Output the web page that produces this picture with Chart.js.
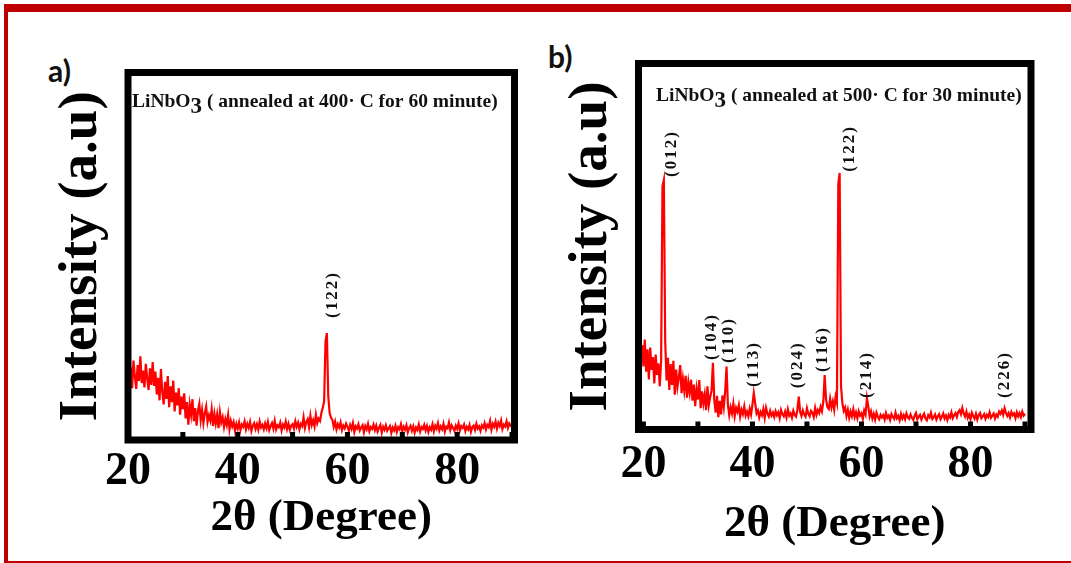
<!DOCTYPE html>
<html><head><meta charset="utf-8">
<script src="https://cdn.jsdelivr.net/npm/chart.js@4.4.1/dist/chart.umd.min.js"></script>
<style>
html,body{margin:0;padding:0;background:#fff;width:1071px;height:563px;overflow:hidden;position:relative;}
#frame{position:absolute;left:4px;top:4px;width:1090px;height:559px;box-sizing:border-box;border-top:8px solid #c00000;border-left:4px solid #c00000;border-bottom:2px solid #c00000;}
.plabel{position:absolute;font-family:Lato,"Liberation Sans",sans-serif;font-weight:700;font-size:30px;line-height:30px;color:#111;}
#wa{position:absolute;left:40px;top:50px;width:500px;height:510px;}
#wb{position:absolute;left:550px;top:40px;width:500px;height:520px;}
</style></head><body>
<div id="frame"></div>
<div class="plabel" style="left:48px;top:55px">a)</div>
<div class="plabel" style="left:548px;top:41px">b)</div>
<div id="wa"><canvas id="ca" width="500" height="510"></canvas></div>
<div id="wb"><canvas id="cb" width="500" height="520"></canvas></div>
<script>
// ---- data ----
const X_TICKS = [20, 40, 60, 80];
const X_MINOR = [20, 30, 40, 50, 60, 70, 80, 90];
const X_TITLE = '2θ (Degree)';
const Y_TITLE = 'Intensity (a.u)';

// panel a: 2θ from 20.00 step 0.25
const A_START = 20, A_STEP = 0.25;
const A_INTENSITY = [
22.5,15.2,19.8,14.1,21.6,17.3,13.9,20.4,16.1,22.8,15.5,18.9,14.3,20.7,16.8,13.6,19.5,15.0,21.2,14.7,
18.6,12.4,16.9,10.8,19.3,13.1,9.7,15.8,11.2,17.4,8.9,14.6,10.3,16.2,7.8,12.9,9.4,14.1,6.9,11.8,
8.4,12.7,5.9,10.3,4.2,9.6,6.8,11.1,5.1,8.7,3.9,7.9,9.8,5.4,8.2,4.6,7.3,9.1,4.9,6.7,
5.3,8.4,3.8,7.1,4.5,6.9,3.2,7.6,4.8,6.2,3.5,5.7,4.1,6.8,2.9,5.2,3.7,4.9,2.6,4.4,
3.1,4.8,2.7,4.2,3.6,5.1,2.9,4.4,3.3,4.9,2.5,3.9,4.6,3.0,4.3,2.8,5.0,3.4,4.1,2.9,
4.5,3.2,4.9,2.7,3.8,4.6,3.1,5.2,2.9,4.0,3.5,4.7,2.6,4.2,3.4,5.0,3.0,4.4,2.8,3.9,
4.3,3.1,5.1,3.6,4.7,2.9,4.4,3.8,6.2,3.3,4.9,5.7,3.5,6.6,4.1,5.4,3.7,6.9,4.6,5.8,
5.2,7.4,8.8,10.5,26.8,29.1,12.0,7.4,6.1,5.5,3.6,5.0,2.9,4.3,3.4,4.8,2.7,3.9,3.2,4.5,
3.6,2.5,4.1,3.0,4.6,2.2,3.7,3.1,4.3,2.6,3.4,4.0,2.1,3.8,2.9,4.4,2.4,3.5,3.0,4.2,
2.7,3.9,2.3,3.3,4.1,2.0,3.6,2.8,4.0,2.5,3.2,3.8,1.9,3.4,2.6,3.9,2.2,3.5,2.9,4.3,
2.4,3.6,2.8,4.0,2.1,3.3,3.9,2.5,3.7,2.0,3.4,2.7,4.2,2.3,3.5,3.0,4.1,2.6,3.8,2.2,
3.5,2.8,4.3,2.4,3.9,3.1,4.6,2.6,3.7,2.9,4.4,2.3,3.6,3.2,4.8,2.7,4.0,3.3,2.5,3.9,
3.0,4.5,2.6,3.8,3.3,4.2,2.4,3.6,2.9,4.1,2.2,3.5,3.9,2.7,4.4,3.1,3.7,2.5,4.0,3.4,
4.6,2.9,4.1,3.5,5.2,2.8,4.4,3.6,5.0,3.1,4.7,3.8,5.3,3.0,4.2,3.7,5.1,3.3,4.5,3.9,
4.3
];

// panel b: 2θ from 19.00 step 0.25
const B_START = 19, B_STEP = 0.25;
const B_INTENSITY = [
24.8,26.3,19.4,23.1,17.2,24.6,15.8,21.9,13.7,22.4,16.3,19.8,12.6,20.5,14.9,18.1,11.8,18.7,66.5,68.2,
24.0,13.4,19.6,10.8,17.9,12.2,18.8,9.5,16.4,11.7,14.2,17.6,9.9,13.8,10.6,14.7,8.7,12.9,10.1,13.6,
7.9,12.3,6.4,11.1,8.2,13.5,5.8,10.4,7.1,9.6,5.3,11.8,6.7,8.9,10.6,18.2,8.1,4.6,9.2,3.4,
7.8,4.1,9.3,6.2,10.5,17.2,6.8,3.9,6.1,4.4,7.0,3.6,5.9,4.8,6.6,3.5,5.4,4.2,6.3,3.8,
4.9,3.6,5.7,4.1,6.8,10.0,7.3,4.4,5.2,3.3,4.8,3.9,5.6,3.2,5.9,4.3,3.5,5.1,3.8,4.6,
3.4,5.0,3.9,4.7,3.1,5.3,4.2,3.6,4.9,3.3,5.5,3.8,4.4,3.2,5.1,4.0,3.5,5.4,9.0,4.8,
3.7,5.2,4.1,3.5,5.8,4.3,3.6,5.1,4.6,3.4,5.9,4.0,5.3,4.5,6.2,5.0,7.6,14.9,8.3,6.1,
5.6,8.4,6.0,7.7,5.4,8.9,7.3,67.0,70.1,11.8,7.2,5.1,6.0,3.7,5.4,3.2,4.9,3.6,5.5,3.4,
4.7,3.1,5.0,3.8,4.4,2.9,5.2,4.1,8.6,6.3,3.6,4.9,3.0,4.3,2.7,4.6,3.5,2.8,4.0,3.3,
3.9,2.7,4.5,3.2,3.8,2.6,4.2,3.4,2.9,4.6,3.1,3.7,2.5,4.3,3.0,3.9,2.8,4.4,3.3,2.9,
4.1,3.2,2.6,3.8,4.5,2.8,3.5,4.0,2.7,3.6,4.3,3.0,2.5,3.9,3.3,4.6,2.9,3.4,4.1,2.7,
3.6,4.2,2.8,3.5,4.4,3.0,3.8,2.6,4.0,3.3,4.7,3.1,3.9,4.5,3.4,4.8,5.3,4.2,5.9,4.4,
3.5,4.9,3.2,4.1,2.8,4.6,3.7,3.0,4.3,2.7,3.9,4.5,3.1,3.6,4.2,2.9,4.0,3.4,4.7,3.2,
3.8,4.4,3.0,4.1,3.5,4.9,4.3,5.2,4.0,5.8,4.6,3.7,4.5,3.3,4.8,3.9,4.4,3.1,4.7,3.6,
4.5,3.4,4.9,3.8,4.3
];

const A_TITLE = ['LiNbO', '3', ' ( annealed at 400· C for 60 minute)'];
const B_TITLE = ['LiNbO', '3', ' ( annealed at 500· C for 30 minute)'];

const A_PEAKS = [{text:'(122)', x:57.37, y:33.2}];
const B_PEAKS = [
  {text:'(012)', x:25.2, y:69.0},
  {text:'(104)', x:32.6, y:19.0},
  {text:'(110)', x:35.7, y:18.2},
  {text:'(113)', x:40.3, y:11.6},
  {text:'(024)', x:48.2, y:11.3},
  {text:'(116)', x:52.9, y:15.7},
  {text:'(122)', x:57.9, y:70.4},
  {text:'(214)', x:61.0, y:8.6},
  {text:'(226)', x:86.3, y:8.6}
];

// ---- drawing ----
const SERIF = '"Liberation Serif", "Times New Roman", serif';

const boxPlugin = {
  id: 'xrdBox',
  afterDatasetsDraw(chart, args, o) {
    const {ctx, chartArea: a, scales: {x, y}} = chart;
    ctx.save();
    ctx.fillStyle = '#000';
    X_MINOR.forEach(v => {
      const px = x.getPixelForValue(v);
      ctx.fillRect(px - 2.5, a.bottom - 8, 5, 5);
    });
    ctx.lineWidth = 7;
    ctx.strokeStyle = '#000';
    ctx.lineJoin = 'miter';
    ctx.strokeRect(a.left, a.top, a.right - a.left, a.bottom - a.top);
    let tx = a.left + o.dx, ty = a.top + o.dy;
    ctx.fillStyle = '#111';
    ctx.textAlign = 'left';
    ctx.textBaseline = 'alphabetic';
    ctx.font = 'bold 19.5px ' + SERIF;
    ctx.fillText(o.title[0], tx, ty); tx += ctx.measureText(o.title[0]).width;
    ctx.font = 'bold 23px ' + SERIF;
    ctx.fillText(o.title[1], tx, ty + 6); tx += ctx.measureText(o.title[1]).width;
    ctx.font = 'bold 19.5px ' + SERIF;
    ctx.fillText(o.title[2], tx, ty);
    ctx.font = 'bold 17px ' + SERIF;
    ctx.letterSpacing = '2px';
    ctx.textBaseline = 'middle';
    o.peaks.forEach(p => {
      ctx.save();
      ctx.translate(x.getPixelForValue(p.x), y.getPixelForValue(p.y));
      ctx.rotate(-Math.PI / 2);
      ctx.fillText(p.text, 0, 0);
      ctx.restore();
    });
    ctx.letterSpacing = '0px';
    ctx.restore();
  }
};

function makeChart(id, start, step, vals, xmin, xmax, padTop, padRight, xAxisH, yAxisW, tickPad, titlePadBottom, yPad, box) {
  const data = vals.map((v, i) => ({x: start + i * step, y: v}));
  return new Chart(document.getElementById(id), {
    type: 'line',
    data: {datasets: [{data, borderColor: '#ff0000', borderWidth: 2.2, pointRadius: 0, tension: 0, fill: false}]},
    options: {
      responsive: false, animation: false, devicePixelRatio: 1,
      layout: {padding: {top: padTop, right: padRight, bottom: 0, left: 0}},
      plugins: {legend: {display: false}, tooltip: {enabled: false}, xrdBox: box},
      scales: {
        x: {
          type: 'linear', min: xmin, max: xmax,
          afterBuildTicks: s => { s.ticks = X_TICKS.map(v => ({value: v})); },
          afterFit: s => { s.height = xAxisH; },
          grid: {display: false, drawTicks: false},
          border: {display: false},
          ticks: {color: '#000', padding: tickPad, autoSkip: false, maxRotation: 0,
                  font: {family: SERIF, size: 46, weight: 'bold', lineHeight: 1}},
          title: {display: true, text: X_TITLE, color: '#000', padding: {top: 0, bottom: titlePadBottom},
                  font: {family: SERIF, size: 45, weight: 'bold', lineHeight: 1}}
        },
        y: {
          min: 0, max: 100,
          afterFit: s => { s.width = yAxisW; },
          grid: {display: false, drawTicks: false},
          border: {display: false},
          ticks: {display: false},
          title: {display: true, text: Y_TITLE, color: '#000', padding: yPad,
                  font: {family: SERIF, size: 55, weight: 'bold', lineHeight: 1.2}}
        }
      }
    },
    plugins: [boxPlugin]
  });
}

makeChart('ca', A_START, A_STEP, A_INTENSITY, 20, 90.45,
  22.5, 25.5, 120, 88, 9.5, 19.5, {top: 8.5, bottom: 13.5},
  {title: A_TITLE, dx: 4, dy: 34, peaks: A_PEAKS});
makeChart('cb', B_START, B_STEP, B_INTENSITY, 19.1, 91.1,
  23.5, 19, 130.5, 88.5, 12.5, 13.5, {top: 8.5, bottom: 14},
  {title: B_TITLE, dx: 17.5, dy: 37, peaks: B_PEAKS});
</script>
</body></html>
